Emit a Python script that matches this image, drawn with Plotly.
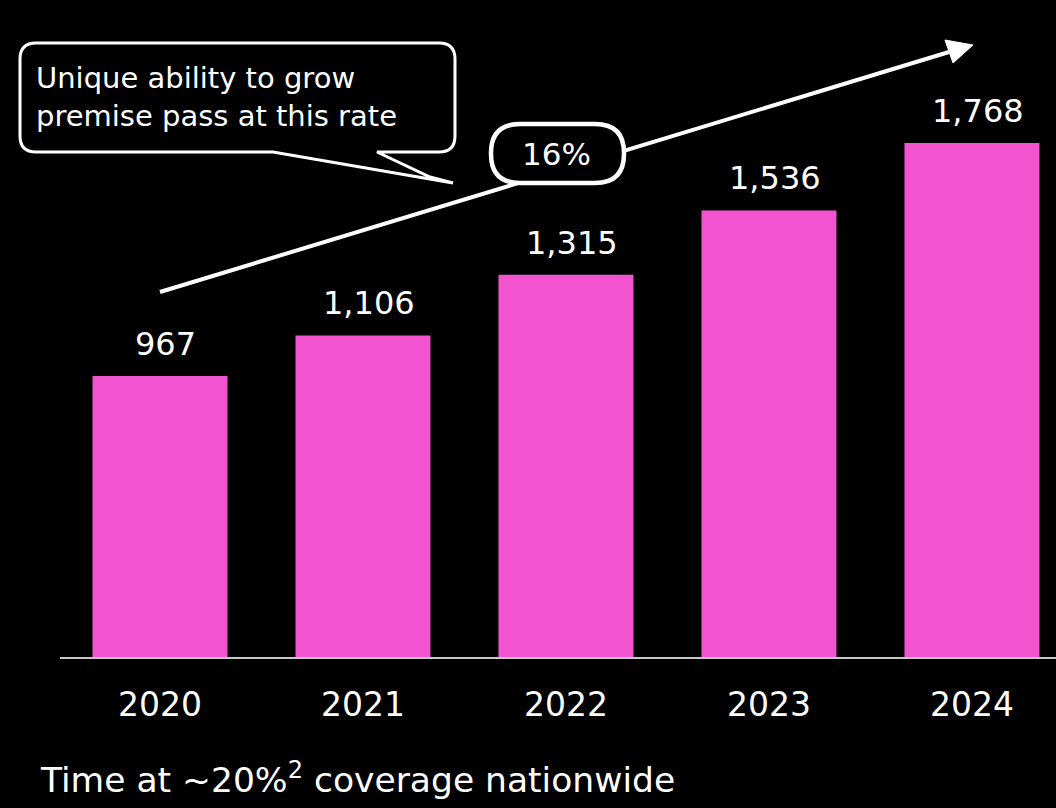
import plotly.graph_objects as go

# Premises passed per year (thousands)
years = ["2020", "2021", "2022", "2023", "2024"]
premises = [967, 1106, 1315, 1536, 1768]
value_labels = ["967", "1,106", "1,315", "1,536", "1,768"]
cagr_label = "16%"
callout_lines = ["Unique ability to grow", "premise pass at this rate"]
footer_text = "Time at ~20%<sup>2</sup> coverage nationwide"

W, H = 1056, 808
ML, MR, MT, MB = 60, 0, 0, 151
PW, PH = W - ML - MR, H - MT - MB

BAR_COLOR = "#F253CE"
NUM_FONT = "DejaVu Sans"


def px(x):
    """Pixel x -> paper x."""
    return (x - ML) / PW


def py(y):
    """Pixel y -> paper y."""
    return (H - MB - y) / PH


def rounded_rect_path(x0, y0, x1, y1, r, tail=None):
    """Rounded rectangle in pixel space (optionally with a speech tail on the bottom edge)."""
    pts = []
    pts.append(f"M{px(x0 + r)},{py(y0)}")
    pts.append(f"L{px(x1 - r)},{py(y0)}")
    pts.append(f"Q{px(x1)},{py(y0)} {px(x1)},{py(y0 + r)}")
    pts.append(f"L{px(x1)},{py(y1 - r)}")
    pts.append(f"Q{px(x1)},{py(y1)} {px(x1 - r)},{py(y1)}")
    if tail:
        for tx, ty in tail:
            pts.append(f"L{px(tx)},{py(ty)}")
    pts.append(f"L{px(x0 + r)},{py(y1)}")
    pts.append(f"Q{px(x0)},{py(y1)} {px(x0)},{py(y1 - r)}")
    pts.append(f"L{px(x0)},{py(y0 + r)}")
    pts.append(f"Q{px(x0)},{py(y0)} {px(x0 + r)},{py(y0)}")
    pts.append("Z")
    return " ".join(pts)


fig = go.Figure()

fig.add_trace(go.Bar(
    x=years,
    y=premises,
    marker=dict(color=BAR_COLOR, line=dict(width=0)),
    width=0.665,
    hoverinfo="skip",
))

# Value labels above each bar (category index as x)
for i, (v, lab) in enumerate(zip(premises, value_labels)):
    fig.add_annotation(
        x=i, y=v, xref="x", yref="y",
        text=lab, showarrow=False,
        xanchor="center", yanchor="middle", yshift=32, xshift=6,
        font=dict(family=NUM_FONT, size=32, color="white"),
    )

shapes = []

# Growth arrow: shaft and head
x_start, y_start = 160, 292
x_end, y_end = 949, 52
shapes.append(dict(
    type="line", xref="paper", yref="paper",
    x0=px(x_start), y0=py(y_start), x1=px(x_end), y1=py(y_end),
    line=dict(color="white", width=4),
))
head = [(973, 45), (945, 40), (953, 63)]
head_path = "M" + " L".join(f"{px(a)},{py(b)}" for a, b in head) + " Z"
shapes.append(dict(
    type="path", xref="paper", yref="paper", path=head_path,
    fillcolor="white", line=dict(color="white", width=1),
))

# Speech-bubble callout
shapes.append(dict(
    type="path", xref="paper", yref="paper",
    path=rounded_rect_path(20, 43, 455, 152, 16,
                           tail=[(377, 152), (430, 177), (453, 183), (273, 152)]),
    fillcolor="black", line=dict(color="white", width=3),
))

# CAGR pill
shapes.append(dict(
    type="path", xref="paper", yref="paper",
    path=rounded_rect_path(491, 124, 624, 183, 29),
    fillcolor="black", line=dict(color="white", width=4.5),
))

fig.update_layout(shapes=shapes)

fig.add_annotation(
    x=px(556), y=py(154), xref="paper", yref="paper",
    text=cagr_label, showarrow=False,
    xanchor="center", yanchor="middle",
    font=dict(family=NUM_FONT, size=31, color="white"),
)

fig.add_annotation(
    x=px(34), y=py(97), xref="paper", yref="paper",
    text="<br>".join(callout_lines), showarrow=False, align="left",
    xanchor="left", yanchor="middle",
    font=dict(family=NUM_FONT, size=29, color="white"),
)

fig.add_annotation(
    x=px(38), y=py(778), xref="paper", yref="paper",
    text=footer_text, showarrow=False,
    xanchor="left", yanchor="middle",
    font=dict(family=NUM_FONT, size=34.5, color="white"),
)

fig.update_layout(
    width=W, height=H,
    margin=dict(l=ML, r=MR, t=MT, b=MB),
    paper_bgcolor="black", plot_bgcolor="black",
    showlegend=False,
    xaxis=dict(
        type="category",
        range=[-0.4926, 4.414],
        showgrid=False, zeroline=False,
        showline=True, linecolor="#c8c8c8", linewidth=2,
        ticks="", ticklabelstandoff=17,
        tickfont=dict(family=NUM_FONT, size=33, color="white"),
        fixedrange=True,
    ),
    yaxis=dict(
        range=[0, 2260], visible=False,
        showgrid=False, zeroline=False, fixedrange=True,
    ),
)

fig.write_html("out.html")
